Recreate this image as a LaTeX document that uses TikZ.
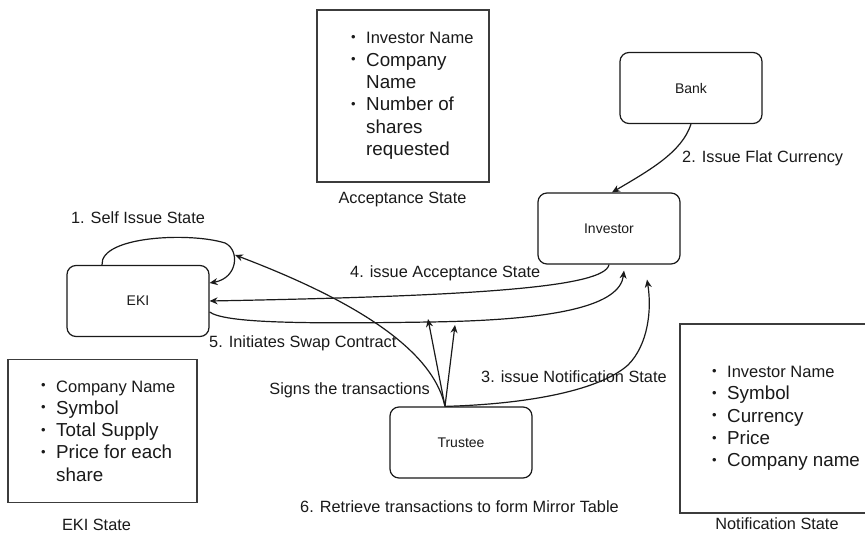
\documentclass[tikz,border=0pt]{standalone}
\usepackage{fontspec}
\setmainfont{Liberation Sans}
\usetikzlibrary{arrows.meta}
\definecolor{ink}{HTML}{1A1A1A}
% bullet list helpers
\newcommand{\bulitem}[1]{\makebox[15pt][l]{\raisebox{0.25ex}{\fontsize{13}{13}\selectfont\textbullet}}#1}
\newcommand{\contline}[1]{\hspace*{15pt}#1}
\newcommand{\firstsize}{\fontsize{16.5}{22.3}\selectfont}

\begin{document}
\begin{tikzpicture}[x=1pt,y=-1pt,
  every node/.style={text=ink, inner sep=0pt},
  party/.style={draw=ink, line width=1.2pt, rounded corners=9pt,
    minimum width=142pt, minimum height=71pt, font=\fontsize{14}{16}\selectfont},
  statebox/.style={draw=ink!85, line width=1.5pt},
  lbl/.style={font=\fontsize{16.3}{19}\selectfont},
  listtext/.style={align=left, font=\fontsize{18.8}{22.3}\selectfont, anchor=west},
  flow/.style={draw=ink, line width=1.2pt, -{Stealth[length=8pt,width=7pt]}}
]
\clip (0,0) rectangle (865,540);
\fill[white] (0,0) rectangle (865,540);

% parties
\node[party] (bank)     at (691,88)    {Bank};
\node[party] (investor) at (609,228.5) {Investor};
\node[party] (eki)      at (138,301)   {EKI};
\node[party] (trustee)  at (461,442.5) {Trustee};

% state boxes
\node[statebox, minimum width=172pt, minimum height=172pt] (accbox) at (403,96) {};
\node[listtext] (acclist) at (351,96) {\bulitem{{\firstsize Investor Name}}\\
  \bulitem{Company}\\ \contline{Name}\\ \bulitem{Number of}\\ \contline{shares}\\ \contline{requested}};
\node[lbl] (acclbl) at (402.5,200) {Acceptance State};

\node[statebox, minimum width=189pt, minimum height=143pt] (ekibox) at (102.5,431) {};
\node[listtext] (ekilist) at (41,431) {\bulitem{{\firstsize Company Name}}\\
  \bulitem{Symbol}\\ \bulitem{Total Supply}\\ \bulitem{Price for each}\\ \contline{share}};
\node[lbl] (ekilbl) at (96.5,525) {EKI State};

\node[statebox, minimum width=200pt, minimum height=189pt] (notbox) at (780,418.5) {};
\node[listtext] (notlist) at (712,418.5) {\bulitem{{\firstsize Investor Name}}\\
  \bulitem{Symbol}\\ \bulitem{Currency}\\ \bulitem{Price}\\ \bulitem{Company name}};
\node[lbl] (notlbl) at (777,524) {Notification State};

% connector end points
\coordinate (tsrc)    at ([xshift=-16pt]trustee.north);
\coordinate (looptip) at (235,255);
\coordinate (sg1)     at (428,319);
\coordinate (sg2)     at (455,325);
\coordinate (inv5)    at ([xshift=15pt,yshift=-6pt]investor.south);
\coordinate (inv3)    at ([xshift=38pt,yshift=-15pt]investor.south);

% 1. self issue loop
\draw[flow] ([xshift=-36pt]eki.north) .. controls (100,236) and (190,232) .. (225,243)
  .. controls (240,250) and (238,278) .. ([yshift=18pt]eki.east);
\node[lbl] (l1) at (138,218) {1. Self Issue State};

% 2. bank to investor
\draw[flow] (bank.south) .. controls (682,152) and (650,170) .. ([xshift=3pt]investor.north);
\node[lbl, anchor=west] (l2) at (682,158) {2. Issue Flat Currency};

% 3. trustee to investor
\draw[flow] (tsrc) .. controls (530,404) and (600,390) .. (628,365)
  .. controls (648,345) and (652,310) .. (inv3);
\node[lbl, anchor=west] (l3) at (481,377) {3. issue Notification State};

% 4. investor to EKI
\draw[flow] (investor.south) .. controls (605,287) and (480,296) .. (eki.east);
\node[lbl, anchor=west] (l4) at (350,273) {4. issue Acceptance State};

% 5. EKI to investor
\draw[flow] ([yshift=-11pt]eki.east) .. controls (225,323) and (300,324) .. (430,322)
  .. controls (560,320) and (620,305) .. (inv5);
\node[lbl, anchor=west] (l5) at (209,343) {5. Initiates Swap Contract};

% trustee signatures
\draw[flow] (tsrc) .. controls (435,360) and (380,310) .. (looptip);
\draw[flow] (tsrc) -- (sg1);
\draw[flow] (tsrc) -- (sg2);
\node[lbl, anchor=east] (lsig) at (430,390) {Signs the transactions};

% 6. mirror table
\node[lbl, anchor=west] (l6) at (300,507) {6. Retrieve transactions to form Mirror Table};
\end{tikzpicture}
\end{document}
